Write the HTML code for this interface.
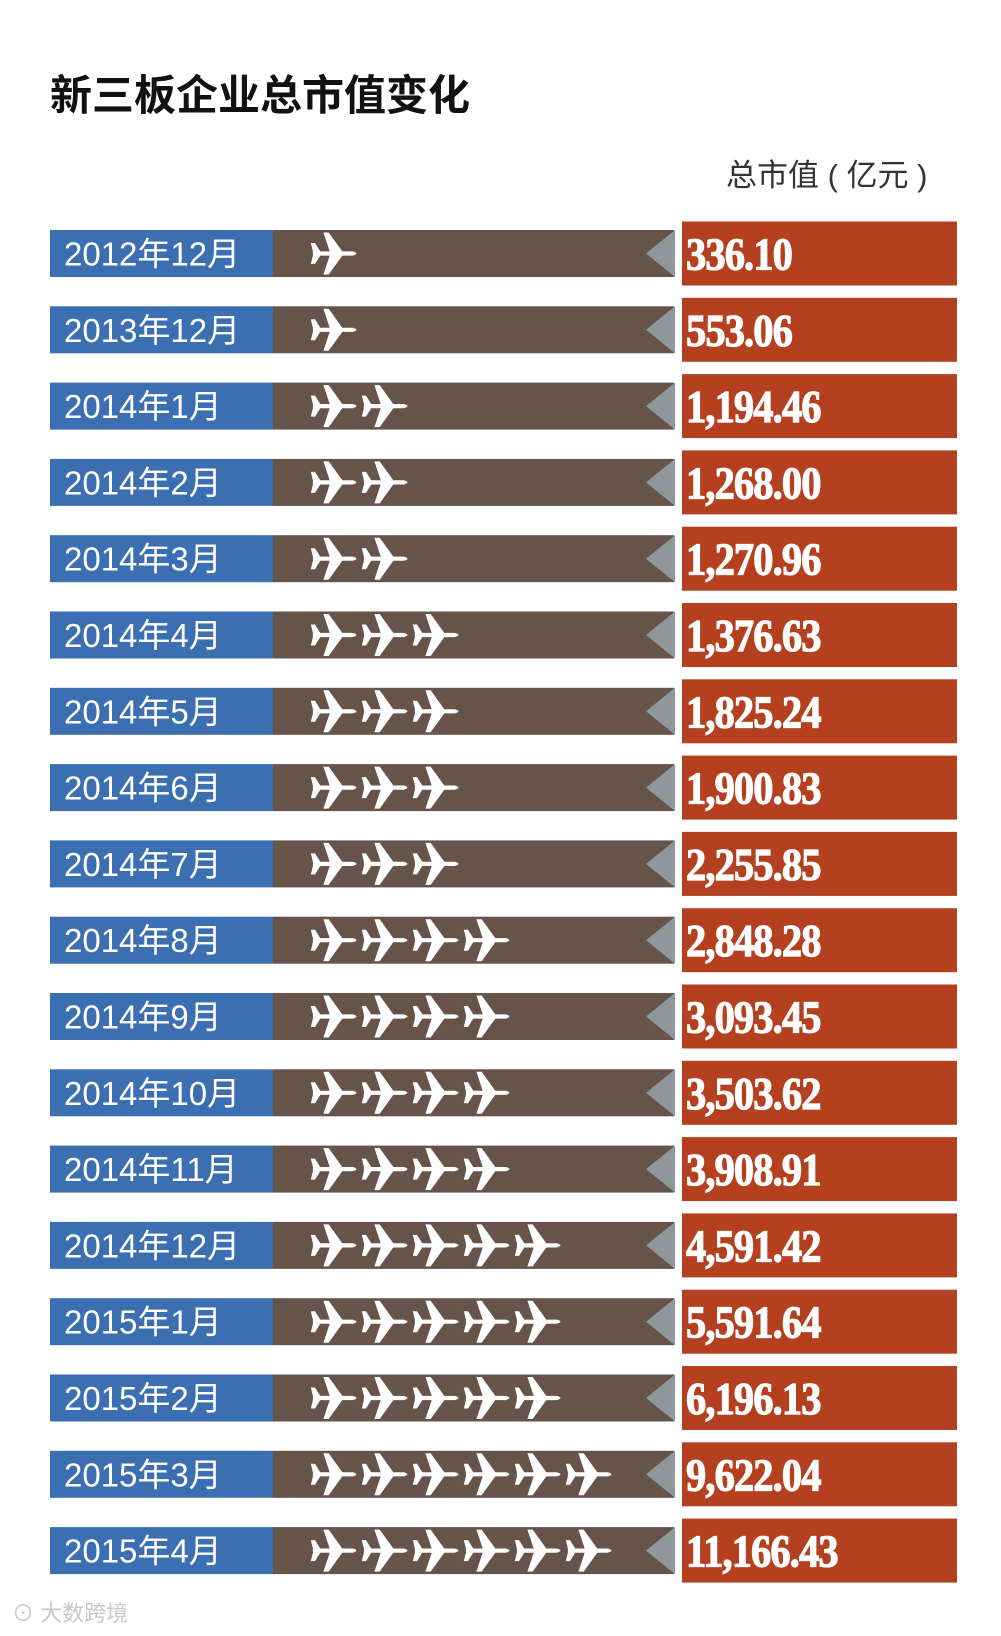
<!DOCTYPE html>
<html><head><meta charset="utf-8">
<style>
body{margin:0;background:#fff;width:1001px;height:1636px;overflow:hidden;position:relative;font-family:"Liberation Sans","Noto Sans CJK SC",sans-serif}
#title{position:absolute;left:50px;top:62px;font-size:42px;font-weight:bold;color:#111;font-family:"Liberation Sans","Noto Sans CJK SC",sans-serif}
#unit{position:absolute;left:726px;top:150px;font-size:31px;color:#333}
#logo{position:absolute;left:12px;top:1596px;font-size:22px;color:#c8c8c8}
</style></head><body>
<div id="title">新三板企业总市值变化</div>
<div id="unit">总市值 ( 亿元 )</div>
<svg id="chart" width="1001" height="1636" style="position:absolute;left:0;top:0"></svg>
<div id="logo">⊙ 大数跨境</div>
<script>
const categories=["2012年12月","2013年12月","2014年1月","2014年2月","2014年3月","2014年4月","2014年5月","2014年6月","2014年7月","2014年8月","2014年9月","2014年10月","2014年11月","2014年12月","2015年1月","2015年2月","2015年3月","2015年4月"];
const values=[336.10,553.06,1194.46,1268.00,1270.96,1376.63,1825.24,1900.83,2255.85,2848.28,3093.45,3503.62,3908.91,4591.42,5591.64,6196.13,9622.04,11166.43];
const planes=[1,1,2,2,2,3,3,3,3,4,4,4,4,5,5,5,6,6];
const NS="http://www.w3.org/2000/svg";
const svg=document.getElementById('chart');
const y0=253.5,pitch=76.3;
function rowY(i){return y0+i*pitch;}
function mk(tag,attrs,parent){const e=document.createElementNS(NS,tag);for(const k in attrs)e.setAttribute(k,attrs[k]);(parent||svg).appendChild(e);return e;}
const fmt=v=>v.toLocaleString('en-US',{minimumFractionDigits:2,maximumFractionDigits:2});
const planePath="M-22,-2 L-6,-2 L-12,-20 L-7,-20 L6,-2 L16,-2 Q23,0 16,2 L6,2 L-7,20 L-12,20 L-6,2 L-22,2 Z M-22,-2 L-24,-10 L-20,-10 L-15,-2 Z M-22,2 L-24,10 L-20,10 L-15,2 Z";
categories.forEach((c,i)=>{
  const cy=rowY(i);
  const g=mk('g',{});
  
  
  const b=mk('rect',{x:50,y:cy-23.5,width:223,height:47,fill:'#3b6fb1'},g);
  
  
  const br=mk('rect',{x:273,y:cy-23.5,width:401,height:47,fill:'#66544b'},g);
  
  
  const tri=mk('polygon',{points:`675,${cy-23.5} 646,${cy} 675,${cy+23.5}`,fill:'#8f979b'},g);
  
  
  const rd=mk('rect',{x:682,y:cy-32,width:275,height:64,fill:'#b5401f'},g);
  
  
  const t=mk('text',{x:64,y:cy+12,'font-size':33,fill:'#fff','font-family':'"Liberation Sans","Noto Sans CJK SC",sans-serif'},g);
  t.textContent=c;
  
  
  for(let p=0;p<planes[i];p++){
    const pl=mk('path',{d:planePath,fill:'#fff',transform:`translate(${336+p*51} ${cy}) scale(1.05)`},g);
    
    
  }
  const v=mk('text',{x:686,y:cy+16,'font-size':46,'font-weight':'bold',fill:'#fff',stroke:'#fff','stroke-width':1.2,transform:`translate(686 0) scale(0.88 1) translate(-686 0)`,'font-family':'"Liberation Serif",serif','letter-spacing':'-1'},g);
  v.textContent=fmt(values[i]);
  
  
});
</script>
</body></html>
